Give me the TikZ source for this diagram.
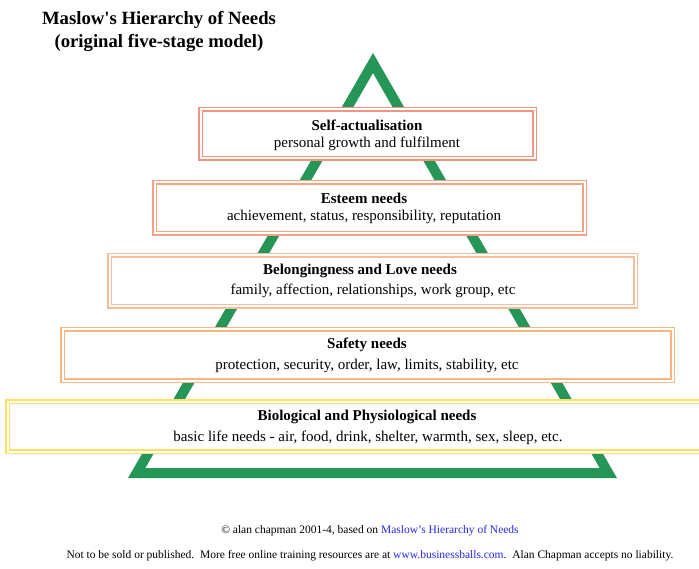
\documentclass[tikz,border=0pt]{standalone}
\usepackage{fontspec}
\setmainfont{Liberation Serif}
\definecolor{pyrgreen}{RGB}{38,150,88}
\definecolor{tierA}{RGB}{240,150,128}
\definecolor{tierB}{RGB}{243,162,134}
\definecolor{tierC}{RGB}{247,190,156}
\definecolor{tierD}{RGB}{248,182,128}
\definecolor{tierE}{RGB}{251,224,100}
\definecolor{linkblue}{RGB}{40,40,225}
\begin{document}
\begin{tikzpicture}[x=1pt,y=-1pt,
  tier/.style={draw=#1, double=white, line width=1.6pt, double distance=2pt,
    fill=white, rectangle, inner sep=0pt},
  head/.style={font=\fontsize{15}{17}\selectfont\bfseries},
  body/.style={font=\fontsize{15}{17}\selectfont},
  foot/.style={font=\fontsize{11.5}{13}\selectfont}]
\clip (0,0) rectangle (699,569);
\fill[white] (0,0) rectangle (699,569);

% title
\node[align=center, font=\fontsize{18.7}{23}\selectfont\bfseries] (title) at (159,31)
  {Maslow\textquotesingle s Hierarchy of Needs\\(original five-stage model)};

% pyramid outline
\coordinate (apex) at (373,63);
\coordinate (bl) at (136.7,473);
\coordinate (br) at (608.3,473);
\draw[pyrgreen, line width=10pt, line join=miter] (apex) -- (br) -- (bl) -- cycle;

% tiers, top to bottom
\node[tier=tierA, minimum width=334pt, minimum height=49pt] (t1) at (367.5,134) {};
\node[tier=tierB, minimum width=430pt, minimum height=51pt] (t2) at (369.5,208) {};
\node[tier=tierC, minimum width=526pt, minimum height=51pt] (t3) at (372.5,281) {};
\node[tier=tierD, minimum width=610pt, minimum height=51pt] (t4) at (367.5,355) {};
\node[tier=tierE, minimum width=720pt, minimum height=50pt] (t5) at (367.5,426.5) {};

\node[head] (h1) at (367,125) {Self-actualisation};
\node[body] (b1) at (367,144) {personal growth and fulfilment};
\node[head] (h2) at (364,198) {Esteem needs};
\node[body] (b2) at (364,217) {achievement, status, responsibility, reputation};
\node[head] (h3) at (360,271) {Belongingness and Love needs};
\node[body] (b3) at (373,291) {family, affection, relationships, work group, etc};
\node[head] (h4) at (367,345) {Safety needs};
\node[body] (b4) at (367,366) {protection, security, order, law, limits, stability, etc};
\node[head] (h5) at (367,417) {Biological and Physiological needs};
\node[body] (b5) at (368,438) {basic life needs - air, food, drink, shelter, warmth, sex, sleep, etc.};

% footer
\node[foot] (f1) at (370,531) {\textcopyright\ alan chapman 2001-4, based on \textcolor{linkblue}{Maslow's Hierarchy of Needs}};
\node[foot] (f2) at (370,556) {Not to be sold or published.\ \ More free online training resources are at \textcolor{linkblue}{www.businessballs.com}.\ \ Alan Chapman accepts no liability.};
\end{tikzpicture}
\end{document}
